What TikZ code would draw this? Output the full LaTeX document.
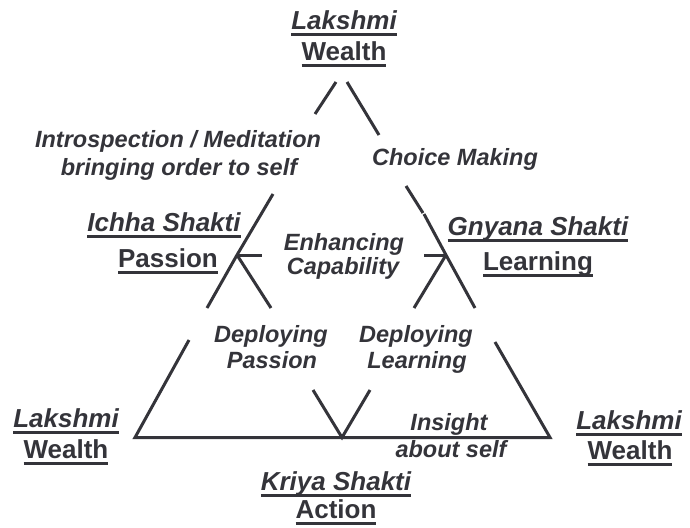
\documentclass[tikz,border=0pt]{standalone}
\usepackage{fontspec}
\setmainfont{Liberation Sans}
\definecolor{ink}{RGB}{52,52,58}
\newcommand\ulbox[1]{\sbox0{#1}\rlap{\rule[-0.25em]{\wd0}{0.11em}}\usebox0}
\tikzset{
  big/.style={font=\fontsize{26}{30}\selectfont\bfseries, text=ink, inner sep=0pt, anchor=base},
  bigi/.style={big, font=\fontsize{26}{30}\selectfont\bfseries\itshape},
  lbl/.style={font=\fontsize{23.5}{27}\selectfont\bfseries\itshape, text=ink, inner sep=0pt, anchor=base},
  seg/.style={draw=ink, line width=3pt},
}
\begin{document}
\begin{tikzpicture}[x=1pt,y=-1pt]
\useasboundingbox (0,0) rectangle (690,527);
% endpoints
\coordinate (t1a) at (336,82);  \coordinate (t1b) at (315,114);
\coordinate (t2a) at (347,82);  \coordinate (t2b) at (379,135);
\coordinate (pa)  at (273,194); \coordinate (pv) at (237,255);
\coordinate (pl)  at (207,308); \coordinate (pr) at (271,308);
\coordinate (pt)  at (262,255);
\coordinate (la)  at (406,186); \coordinate (lb) at (423,213);
\coordinate (lc)  at (424,214); \coordinate (lv) at (446,255);
\coordinate (lr)  at (475,308); \coordinate (ll) at (414,308);
\coordinate (lt)  at (424,255);
\coordinate (ol)  at (189,340); \coordinate (bl) at (135,437.5);
\coordinate (br)  at (550,437.5); \coordinate (or) at (495,342);
\coordinate (vl)  at (313,390); \coordinate (vb) at (342,437.5);
\coordinate (vr)  at (370,390);
% lines
\draw[seg] (t1a) -- (t1b);
\draw[seg] (t2a) -- (t2b);
\draw[seg] (pa) -- (pv) -- (pl);
\draw[seg] (pv) -- (pr);
\draw[seg] (pv) -- (pt);
\draw[seg] (la) -- (lb);
\draw[seg] (lc) -- (lv) -- (lr);
\draw[seg] (lv) -- (ll);
\draw[seg] (lt) -- (lv);
\draw[seg] (ol) -- (bl) -- (br) -- (or);
\draw[seg] (vl) -- (vb) -- (vr);
% labels
\node[bigi] (lkT) at (344,29.5) {\ulbox{Lakshmi}};
\node[big]  (wT)  at (344,60) {\ulbox{Wealth}};
\node[lbl] (intro1) at (178,147) {Introspection / Meditation};
\node[lbl] (intro2) at (179,175) {bringing order to self};
\node[lbl] (choice) at (455,165) {Choice Making};
\node[bigi] (ichha) at (164,231) {\ulbox{Ichha Shakti}};
\node[big]  (pass)  at (168,267) {\ulbox{Passion}};
\node[bigi] (gny)   at (538,235) {\ulbox{Gnyana Shakti}};
\node[big]  (learn) at (538,270) {\ulbox{Learning}};
\node[lbl] (enh1) at (344,250) {Enhancing};
\node[lbl] (enh2) at (343,274) {Capability};
\node[lbl] (dp1) at (271,342) {Deploying};
\node[lbl] (dp2) at (272,368) {Passion};
\node[lbl] (dl1) at (416,342) {Deploying};
\node[lbl] (dl2) at (417,368) {Learning};
\node[lbl] (ins1) at (449,430) {Insight};
\node[lbl] (ins2) at (451,457) {about self};
\node[bigi] (lkL) at (66,427) {\ulbox{Lakshmi}};
\node[big]  (wL)  at (66,458) {\ulbox{Wealth}};
\node[bigi] (lkR) at (629,429) {\ulbox{Lakshmi}};
\node[big]  (wR)  at (630,459) {\ulbox{Wealth}};
\node[bigi] (kri) at (336,490) {\ulbox{Kriya Shakti}};
\node[big]  (act) at (336,518) {\ulbox{Action}};
\end{tikzpicture}
\end{document}
